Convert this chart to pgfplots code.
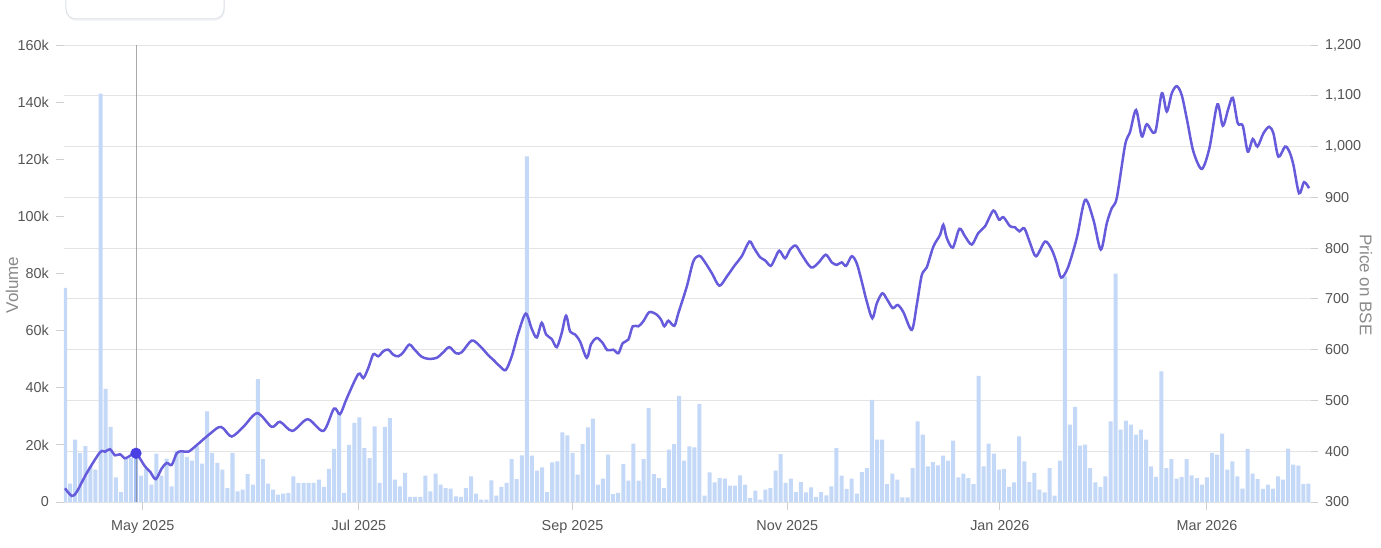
\documentclass[border=0pt]{standalone}
\usepackage{pgfplots}
\pgfplotsset{compat=1.18}
\usepackage{fontspec}
\setmainfont{Liberation Sans}
\definecolor{barc}{HTML}{C4D8F8}
\definecolor{barh}{HTML}{A3BFF3}
\definecolor{linec}{HTML}{655BDB}
\definecolor{markc}{HTML}{4A3FE3}
\definecolor{gridc}{HTML}{E4E4E4}
\definecolor{tickmc}{HTML}{CFCFCF}
\definecolor{tickc}{HTML}{555555}
\definecolor{labc}{HTML}{8A8A8A}
\definecolor{crossc}{HTML}{8C8C8C}
\definecolor{boxc}{HTML}{DDE1E8}
\pgfplotsset{base/.style={scale only axis, width=623.5pt, height=228.5pt,
  xmin=-0.2, xmax=245.5, axis line style={draw=none},
  tick label style={font=\fontsize{7.2}{8}\selectfont, color=tickc},
  label style={font=\fontsize{8.5}{10}\selectfont, color=labc}}}
\begin{document}
\begin{tikzpicture}
\path[use as bounding box] (-32pt,-22.5pt) rectangle (658.5pt,251pt);
\fill[black, opacity=0.035, rounded corners=5pt] (1pt,240.5pt) rectangle (80.5pt,262pt);
\draw[boxc, line width=0.5pt, fill=white, rounded corners=5pt] (1pt,241.5pt) rectangle (80pt,262pt);
% price grid + right axis
\begin{axis}[base, ymin=300, ymax=1200, ytick={300,400,...,1200},
  ymajorgrids, grid style={gridc, line width=0.5pt},
  xtick=\empty, ytick pos=right, yticklabel pos=right,
  tick align=outside, major tick length=3.5pt,
  ytick style={tickmc, line width=0.5pt},
  /pgf/number format/assume math mode=true,
  /pgf/number format/1000 sep={,},
  ylabel={Price on BSE},
  ylabel style={at={(axis description cs:1.0441,0.475)}, anchor=center, rotate=180}]
\end{axis}
% volume bars + left axis
\begin{axis}[base, ymin=0, ymax=160, ytick={0,20,...,160},
  yticklabels={0,20k,40k,60k,80k,100k,120k,140k,160k},
  ytick pos=left, xtick pos=bottom, tick align=outside,
  major tick length=4pt,
  ytick style={tickmc, line width=0.5pt},
  xtick style={tickmc, line width=0.5pt},
  xticklabel style={yshift=-1.5pt},
  xtick={15.3,57.9,100,142.3,184.2,225},
  xticklabels={May 2025,Jul 2025,Sep 2025,Nov 2025,Jan 2026,Mar 2026},
  ylabel={Volume},
  ylabel style={at={(axis description cs:-0.0417,0.475)}, anchor=center}]
\addplot[ybar, bar width=0.79, bar shift=0pt, fill=barc, draw=none] coordinates {
(0,75) (1,6.4) (2,21.8) (3,17.2) (4,19.6) (5,12.5) (6,11.3) (7,143) (8,39.6) (9,26.3)
(10,8.6) (11,3.5) (12,15) (13,15.4) (14,17.2) (15,9.2) (16,11.6) (17,6.1) (18,16.9) (19,9.2)
(20,15.2) (21,5.5) (22,18) (23,17.2) (24,15.8) (25,14.5) (26,19.5) (27,13.4) (28,31.7) (29,17.2)
(30,13.7) (31,11.3) (32,4.9) (33,17.2) (34,3.7) (35,4.3) (36,9.8) (37,6.1) (38,43) (39,15)
(40,6.4) (41,4.3) (42,2.6) (43,2.9) (44,3.2) (45,9) (46,6.7) (47,6.7) (48,6.7) (49,6.7)
(50,7.8) (51,5.3) (52,11.6) (53,18.6) (54,31.2) (55,3.2) (56,20) (57,27.7) (58,29.6) (59,18.9)
(60,15.4) (61,26.5) (62,6.7) (63,26.3) (64,29.4) (65,7.8) (66,5.5) (67,10.2) (68,1.8) (69,1.8)
(70,1.8) (71,9.2) (72,3.7) (73,9.9) (74,6.1) (75,4.9) (76,4.7) (77,2.0) (78,1.8) (79,4.9)
(80,9.0) (81,2.9) (82,0.8) (83,0.8) (84,7.6) (85,2.2) (86,5.3) (87,6.7) (88,15) (89,8)
(90,16.3) (91,121) (92,16.2) (93,11) (94,12.1) (95,3.5) (96,13.9) (97,14.2) (98,24.4) (99,23.3)
(100,17.2) (101,9.6) (102,20.3) (103,26.1) (104,29.2) (105,6.1) (106,8.2) (107,16.6) (108,2.8) (109,3.2)
(110,13.3) (111,7.5) (112,20.4) (113,7.5) (114,15) (115,32.9) (116,9.8) (117,8.4) (118,4.9) (119,18.3)
(120,20.3) (121,37.2) (122,14.5) (123,19.5) (124,19.1) (125,34.4) (126,2.2) (127,10.4) (128,6.9) (129,8.4)
(130,8.2) (131,5.7) (132,5.7) (133,9.3) (134,6.1) (135,1.4) (136,4) (137,0.8) (138,4.3) (139,4.9)
(140,11) (141,16.8) (142,6.7) (143,8.2) (144,3.5) (145,7) (146,3.4) (147,5.1) (148,1.8) (149,3.5)
(150,2.3) (151,5.5) (152,18.9) (153,9.2) (154,4.6) (155,8.2) (156,2.9) (157,10.5) (158,11.9) (159,35.8)
(160,21.8) (161,21.8) (162,6.3) (163,9.9) (164,7.8) (165,1.6) (166,1.6) (167,11.9) (168,28.2) (169,23.6)
(170,12.5) (171,14) (172,12.8) (173,16.2) (174,14.5) (175,21.5) (176,8.6) (177,9.9) (178,8.4) (179,6.3)
(180,44.2) (181,12.5) (182,20.4) (183,16.9) (184,11.3) (185,11.6) (186,5.3) (187,6.9) (188,23) (189,14.2)
(190,7) (191,10.2) (192,4.3) (193,3.4) (194,11.9) (195,2.2) (196,14.5) (197,79) (198,27.1) (199,33.3)
(200,19.7) (201,20.1) (202,11.9) (203,6.9) (204,5.3) (205,9) (206,28.2) (207,80) (208,25.3) (209,28.5)
(210,27.1) (211,23.6) (212,25.3) (213,21.8) (214,12.5) (215,8.8) (216,45.7) (217,11.9) (218,15) (219,8.2)
(220,8.8) (221,15) (222,9.3) (223,8.4) (224,6.1) (225,8.6) (226,17.2) (227,16.6) (228,23.9) (229,11.3)
(230,14.2) (231,9) (232,4.7) (233,18.6) (234,9.9) (235,8) (236,4.6) (237,6.1) (238,4.7) (239,9)
(240,7.8) (241,18.7) (242,13.1) (243,12.7) (244,6.3) (245,6.4)
};
\addplot[ybar, bar width=0.79, bar shift=0pt, fill=barh, draw=none] coordinates {(14,17.2)};
\addplot[crossc, line width=0.5pt, opacity=0.75] coordinates {(13.99,0) (13.99,160)};
\end{axis}
% price line
\begin{axis}[base, ymin=300, ymax=1200, hide axis]
\addplot[linec, line width=1.25pt, smooth] coordinates {
(0.0,327) (1.32,312) (2.31,320) (4.28,357) (6.90,398) (7.88,399) (8.87,404) (9.85,392)
(10.84,394) (11.82,386) (12.81,391) (13.99,396) (15.76,370) (16.75,360) (17.87,345) (19.05,366)
(20.04,377) (21.02,373) (22.01,396) (23.00,400) (24.30,399) (25.95,412) (27.92,429) (30.21,447)
(31.19,445) (32.85,429) (35.13,448) (37.89,475) (40.73,448) (42.36,458) (44.79,440) (47.82,463)
(50.90,440) (53.00,484) (54.19,473) (55.51,504) (57.79,552) (58.78,544) (59.76,564) (60.75,591)
(61.73,587) (62.72,597) (63.70,600) (64.69,590) (65.68,587) (66.66,595) (67.84,610) (68.97,599)
(70.29,586) (71.59,582) (73.24,584) (74.54,595) (75.72,605) (77.04,593) (78.17,595) (80.14,618)
(81.77,607) (83.41,589) (84.39,580) (85.71,567) (86.84,560) (88.02,587) (89.32,633) (90.78,671)
(91.96,641) (92.95,624) (93.93,653) (94.78,630) (95.90,621) (96.89,605) (97.87,633) (98.72,667)
(99.51,636) (100.49,630) (101.48,616) (102.80,584) (103.65,611) (104.77,623) (105.87,614) (106.86,599)
(108.04,600) (109.03,593) (109.89,613) (111.00,620) (111.86,646) (112.97,646) (113.95,656) (115.13,674)
(116.59,669) (117.44,659) (118.09,646) (118.88,657) (120.06,647) (120.85,672) (122.50,724) (123.80,774)
(124.93,785) (125.77,777) (127.43,751) (128.92,726) (130.39,744) (132.02,767) (133.34,784) (134.84,813)
(135.76,800) (136.95,782) (137.93,776) (139.05,765) (139.90,780) (140.75,795) (141.87,780) (142.86,797)
(143.98,805) (145.16,787) (146.99,762) (148.43,771) (149.89,787) (151.07,772) (152.06,767) (153.04,772)
(153.89,765) (155.01,784) (156.00,770) (156.99,734) (157.97,695) (159.07,662) (159.94,691) (161.04,711)
(162.03,698) (163.09,682) (164.08,688) (165.18,674) (166.84,639) (167.82,688) (168.81,747) (169.79,762)
(171.09,803) (172.41,826) (173.06,846) (173.73,820) (174.92,801) (176.22,838) (177.34,823) (178.66,807)
(179.96,830) (181.28,843) (182.92,874) (184.04,856) (184.89,861) (186.21,843) (187.19,841) (188.04,833)
(189.02,839) (190.15,810) (191.33,784) (193.10,813) (194.42,797) (195.41,770) (196.26,742) (197.58,761)
(199.35,820) (200.99,895) (202.62,856) (204.08,797) (205.26,849) (206.25,879) (207.23,899) (208.87,1003)
(209.85,1029) (211.03,1072) (212.16,1020) (213.14,1044) (214.78,1028) (216.10,1105) (217.08,1069) (218.07,1105)
(219.05,1119) (220.04,1101) (221.14,1049) (222.33,990) (223.98,956) (225.48,997) (227.05,1083) (228.12,1041)
(229.22,1075) (230.09,1096) (231.07,1046) (232.06,1041) (233.04,990) (234.03,1015) (234.94,1000) (236.12,1026)
(237.24,1039) (238.09,1026) (239.08,980) (240.39,1000) (241.24,990) (242.03,964) (243.15,908) (244.14,930)
(245.12,918)
};
\addplot[only marks, mark=*, mark size=2.6pt, color=markc] coordinates {(13.99,396)};
\end{axis}
\end{tikzpicture}
\end{document}
